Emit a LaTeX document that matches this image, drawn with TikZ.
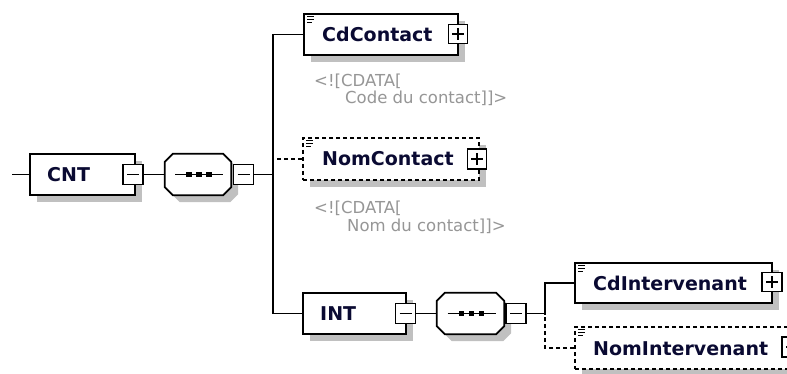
\documentclass[tikz,border=0pt]{standalone}
\usepackage{fontspec}
\setmainfont{DejaVu Sans}
\usetikzlibrary{shadows,calc}
\definecolor{txt}{RGB}{10,10,50}
\definecolor{cdatac}{RGB}{150,150,150}
\definecolor{shadowc}{RGB}{192,192,192}
\newcommand\minusin[1]{\draw[line width=1.5pt] ([shift={(-6,0)}]#1.center) -- ([shift={(6,0)}]#1.center);}
\newcommand\plusin[1]{\minusin{#1}\draw[line width=1.5pt] ([shift={(0,-6)}]#1.center) -- ([shift={(0,6)}]#1.center);}
\newcommand\iconin[1]{%
  \draw[line width=1.3pt] ([shift={(4,3.5)}]#1.north west) -- +(7,0);
  \draw[line width=1.3pt] ([shift={(4,6.5)}]#1.north west) -- +(7,0);
  \draw[line width=1.3pt] ([shift={(4,9.5)}]#1.north west) -- +(5,0);}
\newcommand\octa[1]{%
  \draw[line width=1.8pt, fill=white, drop shadow={shadow xshift=7pt, shadow yshift=-7pt, fill=shadowc, opacity=1, draw=none}]
    let \p1=(#1.north west), \p2=(#1.south east) in
    (\x1+8pt,\y1) -- (\x2-8pt,\y1) -- (\x2,\y1-8pt) -- (\x2,\y2+8pt) -- (\x2-8pt,\y2) -- (\x1+8pt,\y2) -- (\x1,\y2+8pt) -- (\x1,\y1-8pt) -- cycle;
  \draw[line width=1.6pt] ([shift={(-23,0)}]#1.center) -- ([shift={(25,0)}]#1.center);
  \foreach \dx in {-9,1,11} {\fill ([shift={(\dx-2.8,-2.8)}]#1.center) rectangle ([shift={(\dx+2.8,2.8)}]#1.center);}}
\tikzset{
  elem/.style={draw=black, fill=white, line width=1.8pt, rectangle, inner sep=0pt,
    drop shadow={shadow xshift=7pt, shadow yshift=-7pt, fill=shadowc, opacity=1, draw=none}},
  optelem/.style={elem, dash pattern=on 4pt off 3pt},
  seqnode/.style={rectangle, inner sep=0pt, minimum height=41pt},
  pm/.style={draw=black, fill=white, line width=1.8pt, rectangle, inner sep=0pt, minimum width=20pt, minimum height=20pt},
  lbl/.style={inner sep=0pt, anchor=base west, text=txt, font=\fontsize{19}{22}\selectfont\bfseries},
  cdata/.style={inner sep=0pt, anchor=base west, text=cdatac, font=\fontsize{16.5}{19}\selectfont},
  conn/.style={draw=black, line width=1.8pt},
  optconn/.style={conn, dash pattern=on 4pt off 3pt}
}
\begin{document}
\begin{tikzpicture}[x=1pt,y=-1pt]
\clip (0,0) rectangle (787,374);
\fill[white] (0,0) rectangle (787,374);
% CNT
\coordinate (in) at (12,174.5);
\node[elem, minimum width=105pt, minimum height=41pt] (cnt) at (82.5,174.5) {};
\node[lbl] (cntt) at (47,181.5) {CNT};
\node[pm] (cntm) at (133,174.5) {};
\minusin{cntm}
% sequence 1
\node[seqnode, minimum width=66pt] (seq1) at (198,174.5) {};
\octa{seq1}
\node[pm] (seq1m) at (243.5,174.5) {};
\minusin{seq1m}
\coordinate (j1) at (273,174.5);
% CdContact
\node[elem, minimum width=154pt, minimum height=41pt] (cdc) at (381,34.5) {};
\iconin{cdc}
\node[lbl] (cdct) at (322,41.5) {CdContact};
\node[pm, minimum width=19pt, minimum height=19pt] (cdcp) at (458,34) {};
\plusin{cdcp}
\node[cdata] (cdc1) at (314,86.5) {<![CDATA[};
\node[cdata] (cdc2) at (345,103.5) {Code du contact]]>};
% NomContact
\node[optelem, minimum width=176pt, minimum height=42pt] (nomc) at (391,159) {};
\iconin{nomc}
\node[lbl] (nomct) at (322,166) {NomContact};
\node[pm, minimum width=19pt, minimum height=20pt] (nomcp) at (477,159) {};
\plusin{nomcp}
\node[cdata] (nomc1) at (314,214) {<![CDATA[};
\node[cdata] (nomc2) at (347,231.5) {Nom du contact]]>};
% INT
\node[elem, minimum width=103pt, minimum height=41pt] (int) at (354.5,313.5) {};
\node[lbl] (intt) at (320,320.5) {INT};
\node[pm] (intm) at (405.5,313.5) {};
\minusin{intm}
% sequence 2
\node[seqnode, minimum width=67pt] (seq2) at (470.5,313.5) {};
\octa{seq2}
\node[pm] (seq2m) at (516,313.5) {};
\minusin{seq2m}
\coordinate (j2) at (545,313.5);
% CdIntervenant
\node[elem, minimum width=197pt, minimum height=40pt] (cdi) at (673.5,283) {};
\iconin{cdi}
\node[lbl] (cdit) at (593,290) {CdIntervenant};
\node[pm, minimum width=20pt, minimum height=19pt] (cdip) at (772,282) {};
\plusin{cdip}
% NomIntervenant
\node[optelem, minimum width=222pt, minimum height=42pt] (nomi) at (686,348) {};
\iconin{nomi}
\node[lbl] (nomit) at (593,355) {NomIntervenant};
\node[pm, minimum width=20pt, minimum height=20pt] (nomip) at (792,347) {};
\plusin{nomip}
% connectors
\draw[conn] (in) -- (cnt.west);
\draw[conn] (cntm.east) -- (seq1.west);
\draw[conn] (seq1m.east) -- (j1);
\draw[conn] (cdc.west) -| (j1);
\draw[conn] (int.west) -| (j1);
\draw[optconn] (nomc.west) -- (j1 |- nomc.west);
\draw[conn] (intm.east) -- (seq2.west);
\draw[conn] (seq2m.east) -- (j2);
\draw[conn] (cdi.west) -| (j2);
\draw[optconn] (nomi.west) -| (j2);
\end{tikzpicture}
\end{document}
